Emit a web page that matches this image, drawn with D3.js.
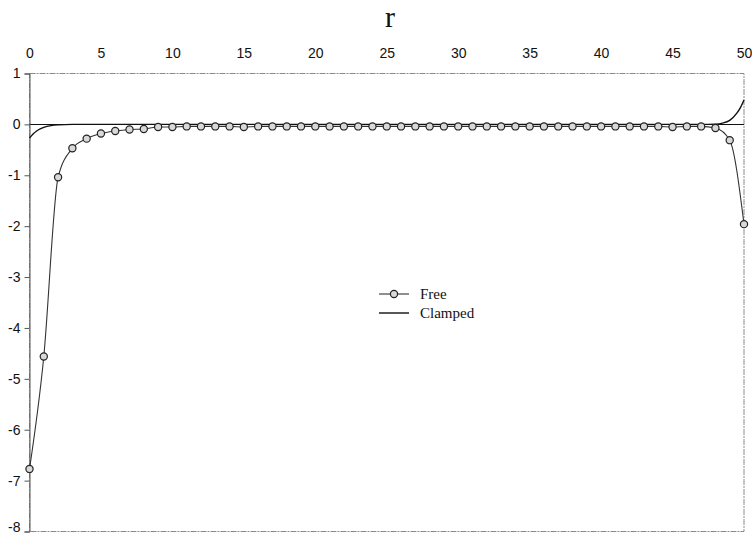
<!DOCTYPE html>
<html>
<head>
<meta charset="utf-8">
<script src="https://cdn.jsdelivr.net/npm/d3@7"></script>
<style>
  html, body { margin: 0; padding: 0; background: #fff; }
  svg { display: block; }
</style>
</head>
<body>
<svg id="chart" width="752" height="534"></svg>
<script>
// Site index r and the two response curves
const rValues = d3.range(0, 51);
const freeValues = [
  -6.77, -4.56, -1.04, -0.47, -0.28, -0.18, -0.13, -0.10, -0.09, -0.05,
  -0.05, -0.04, -0.04, -0.04, -0.04, -0.05, -0.04, -0.04, -0.04, -0.04,
  -0.04, -0.04, -0.04, -0.04, -0.04, -0.04, -0.04, -0.04, -0.04, -0.04,
  -0.04, -0.04, -0.04, -0.04, -0.04, -0.04, -0.04, -0.04, -0.04, -0.04,
  -0.04, -0.04, -0.04, -0.04, -0.04, -0.05, -0.04, -0.04, -0.07, -0.31,
  -1.96
];
const clampedR = [0, 0.25, 0.5, 0.75, 1, 1.5, 2, 3, 5, 10, 20, 30, 40, 45, 47, 48, 48.5, 49, 49.5, 49.75, 50];
const clampedValues = [-0.27, -0.19, -0.13, -0.09, -0.06, -0.025, -0.01, 0, 0, 0, 0, 0, 0, 0, 0, 0.005, 0.025, 0.08, 0.22, 0.33, 0.48];

const xTicks = [0, 5, 10, 15, 20, 25, 30, 35, 40, 45, 50];
const yTicks = [1, 0, -1, -2, -3, -4, -5, -6, -7, -8];
const seriesNames = ["Free", "Clamped"];

const svg = d3.select("#chart");
const x = d3.scaleLinear().domain([0, 50]).range([29.5, 744]);
const y = d3.scaleLinear().domain([-8, 1]).range([531.5, 73.5]);

// plot frame
svg.append("rect")
  .attr("x", x(0)).attr("y", y(1))
  .attr("width", x(50) - x(0)).attr("height", y(-8) - y(1))
  .attr("fill", "none").attr("stroke", "#8a8a8a").attr("stroke-width", 1)
  .attr("stroke-dasharray", "6,1,2,1");

// horizontal axis line at zero
svg.append("line")
  .attr("x1", x(0)).attr("x2", x(50))
  .attr("y1", Math.round(y(0)) + 0.5).attr("y2", Math.round(y(0)) + 0.5)
  .attr("stroke", "#111").attr("stroke-width", 1);

// left value axis
const yAxis = svg.append("g")
  .attr("transform", `translate(${x(0)},0)`)
  .call(d3.axisLeft(y).tickValues(yTicks).tickSize(5).tickPadding(4)
    .tickFormat(d => String(d)));
yAxis.select(".domain").attr("stroke", "#555");
yAxis.selectAll(".tick line").attr("stroke", "#555");
yAxis.selectAll("text")
  .attr("font-family", "'Liberation Sans', Arial, sans-serif")
  .attr("font-size", 14).attr("fill", "#111");
// the lowest label sits against the bottom edge; lift it so it stays whole
yAxis.selectAll(".tick").filter(d => d === -8).select("text").attr("dy", "0.02em");

// top category labels
const xAxis = svg.append("g")
  .attr("transform", "translate(0,61)")
  .call(d3.axisTop(x).tickValues(xTicks).tickSize(0).tickPadding(3)
    .tickFormat(d => String(d)));
xAxis.select(".domain").remove();
xAxis.selectAll("text")
  .attr("font-family", "'Liberation Sans', Arial, sans-serif")
  .attr("font-size", 14).attr("fill", "#111");

// axis title
svg.append("text")
  .attr("x", 390).attr("y", 27)
  .attr("text-anchor", "middle")
  .attr("font-family", "'Liberation Serif', 'Times New Roman', serif")
  .attr("font-size", 30).attr("fill", "#111")
  .text("r");

// clamped curve
const clampedPts = clampedR.map((r, i) => [r, clampedValues[i]]);
svg.append("path")
  .datum(clampedPts)
  .attr("fill", "none").attr("stroke", "#111").attr("stroke-width", 1.4)
  .attr("d", d3.line().x(d => x(d[0])).y(d => y(d[1])).curve(d3.curveMonotoneX));

// free curve with markers
const freePts = rValues.map((r, i) => [r, freeValues[i]]);
svg.append("path")
  .datum(freePts)
  .attr("fill", "none").attr("stroke", "#333").attr("stroke-width", 1.1)
  .attr("d", d3.line().x(d => x(d[0])).y(d => y(d[1])).curve(d3.curveMonotoneX));
svg.append("g").selectAll("circle")
  .data(freePts).join("circle")
  .attr("cx", d => x(d[0])).attr("cy", d => y(d[1]))
  .attr("r", 3.6)
  .attr("fill", "#d8d8d8").attr("stroke", "#222").attr("stroke-width", 1.2);

// legend
const legend = svg.append("g");
const lx0 = 379, lx1 = 409, tx = 420;
legend.append("line").attr("x1", lx0).attr("x2", lx1).attr("y1", 294).attr("y2", 294)
  .attr("stroke", "#333").attr("stroke-width", 1.1);
legend.append("circle").attr("cx", (lx0 + lx1) / 2).attr("cy", 294).attr("r", 3.6)
  .attr("fill", "#d8d8d8").attr("stroke", "#222").attr("stroke-width", 1.2);
legend.append("line").attr("x1", lx0).attr("x2", lx1).attr("y1", 313).attr("y2", 313)
  .attr("stroke", "#111").attr("stroke-width", 1.4);
legend.selectAll("text")
  .data(seriesNames).join("text")
  .attr("x", tx).attr("y", (d, i) => 299 + i * 19)
  .attr("font-family", "'Liberation Serif', 'Times New Roman', serif")
  .attr("font-size", 15).attr("fill", "#111")
  .text(d => d);
</script>
</body>
</html>
